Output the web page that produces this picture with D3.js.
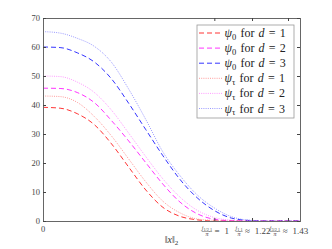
<!DOCTYPE html>
<html>
<head>
<meta charset="UTF-8">
<title>psi curves</title>
<script src="https://cdnjs.cloudflare.com/ajax/libs/d3/7.8.5/d3.min.js"></script>
<style>
  html, body { margin: 0; padding: 0; background: #fff; }
  svg { display: block; font-family: "Liberation Serif", "DejaVu Serif", serif; }
</style>
</head>
<body>
<div id="chart"></div>
<script>
// values
const xs        = [0, 0.1, 0.2, 0.3, 0.4, 0.5, 0.6, 0.7, 0.8, 0.9, 1.0, 1.1, 1.2, 1.3, 1.4, 1.5];
const psi0_d1   = [39.2, 38.9, 37.0, 33.2, 26.6, 18.6, 10.7, 4.7, 1.6, 0.4, 0.0, 0, 0, 0, 0, 0];
const psi0_d2   = [45.8, 45.7, 44.3, 40.8, 34.6, 27.6, 20.1, 12.7, 6.5, 2.5, 0.6, 0.1, 0, 0, 0, 0];
const psi0_d3   = [60.0, 59.8, 58.0, 54.8, 49.0, 40.6, 31.5, 22.5, 14.3, 8.0, 3.6, 1.0, 0.2, 0.0, 0, 0];
const psiT_d1   = [43.1, 42.9, 40.9, 36.0, 29.3, 21.4, 13.5, 6.8, 2.8, 0.7, 0.2, 0.0, 0, 0, 0, 0];
const psiT_d2   = [50.0, 49.8, 47.9, 44.3, 38.2, 30.3, 22.2, 14.5, 8.2, 3.7, 1.2, 0.3, 0.05, 0, 0, 0];
const psiT_d3   = [65.3, 64.8, 63.0, 60.2, 54.7, 45.5, 35.0, 23.8, 15.6, 9.0, 4.5, 1.5, 0.3, 0.05, 0, 0];

const yTicks    = [0, 10, 20, 30, 40, 50, 60, 70];
const xTickVals = [1, 1.22, 1.43];
const xTickSub  = ["1/2,1", "1,1", "3/2,1"];
const xTickRel  = ["= 1", "\u2248 1.22", "\u2248 1.43"];

const series = [
  { vals: psi0_d1, sub: "0", d: 1, color: "#ff0000", dash: "5,3" },
  { vals: psi0_d2, sub: "0", d: 2, color: "#ff00ff", dash: "5,3" },
  { vals: psi0_d3, sub: "0", d: 3, color: "#0000ff", dash: "5,3" },
  { vals: psiT_d1, sub: "\u03c4", d: 1, color: "#ff8080", dash: "1,1.2" },
  { vals: psiT_d2, sub: "\u03c4", d: 2, color: "#ff80ff", dash: "1,1.2" },
  { vals: psiT_d3, sub: "\u03c4", d: 3, color: "#8080ff", dash: "1,1.2" }
];

const W = 332, H = 249;
const L = 43, R = 300, T = 18, B = 221;

const svg = d3.select('#chart').append('svg')
  .attr('width', W).attr('height', H);

const x = d3.scaleLinear().domain([0, 1.5]).range([L, R]);
const y = d3.scaleLinear().domain([0, 70]).range([B, T]);

// curves
const line = d3.line()
  .x((d, i) => x(xs[i]))
  .y(d => y(d))
  .curve(d3.curveMonotoneX);

svg.append('g').selectAll('path')
  .data(series)
  .join('path')
  .attr('d', s => line(s.vals))
  .attr('fill', 'none')
  .attr('stroke', s => s.color)
  .attr('stroke-width', 0.8)
  .attr('stroke-dasharray', s => s.dash);

// box + inward ticks
const axisCol = '#666';
svg.append('rect')
  .attr('x', L + 0.5).attr('y', T + 0.5).attr('width', R - L).attr('height', B - T)
  .attr('fill', 'none').attr('stroke', axisCol).attr('stroke-width', 1);

function styleAxis(g) {
  g.select('.domain').remove();
  g.selectAll('.tick line').attr('stroke', '#444');
  g.selectAll('.tick text').attr('fill', '#444').attr('font-size', 8.5)
    .attr('font-family', '"Liberation Serif", serif');
}
svg.append('g').attr('transform', `translate(${L},0)`)
  .call(d3.axisLeft(y).tickValues(yTicks).tickSize(-3).tickSizeOuter(0).tickPadding(3))
  .call(styleAxis);
svg.append('g').attr('transform', `translate(${R},0)`)
  .call(d3.axisRight(y).tickValues(yTicks).tickSize(-3).tickSizeOuter(0).tickFormat(''))
  .call(styleAxis);
svg.append('g').attr('transform', `translate(0,${B})`)
  .call(d3.axisBottom(x).tickValues(xTickVals).tickSize(-3).tickSizeOuter(0).tickFormat(''))
  .call(styleAxis);
svg.append('g').attr('transform', `translate(0,${T})`)
  .call(d3.axisTop(x).tickValues(xTickVals).tickSize(-3).tickSizeOuter(0).tickFormat(''))
  .call(styleAxis);

// x tick labels
svg.append('text')
  .attr('x', x(0)).attr('y', B + 11)
  .attr('text-anchor', 'middle').attr('font-size', 8.5).attr('fill', '#444')
  .text('0');

xTickVals.forEach((v, i) => {
  const g = svg.append('g').attr('fill', '#444');
  const num = g.append('text').attr('x', 0).attr('y', B + 8.5).attr('font-size', 6);
  num.append('tspan').attr('font-style', 'italic').text('j');
  num.append('tspan').attr('font-size', 4.3).attr('dy', 1.2).text(xTickSub[i]);
  const nw = num.node().getComputedTextLength();
  g.append('line').attr('x1', 0).attr('x2', nw).attr('y1', B + 10.5).attr('y2', B + 10.5)
    .attr('stroke', '#444').attr('stroke-width', 0.45);
  g.append('text').attr('x', nw / 2).attr('y', B + 15).attr('font-size', 6)
    .attr('font-style', 'italic').attr('text-anchor', 'middle').text('\u03c0');
  const rel = g.append('text').attr('x', nw + 2.5).attr('y', B + 13)
    .attr('font-size', 9).attr('word-spacing', 2.5).text(xTickRel[i]);
  const tw = nw + 2.5 + rel.node().getComputedTextLength();
  g.attr('transform', `translate(${x(v) - tw / 2 + 1},0)`);
});

// x label ||x||_2
const xl = svg.append('text')
  .attr('x', (L + R) / 2).attr('y', B + 22)
  .attr('text-anchor', 'middle').attr('font-size', 10).attr('fill', '#333');
xl.append('tspan').text('\u2016');
xl.append('tspan').attr('font-style', 'italic').text('x');
xl.append('tspan').text('\u2016');
xl.append('tspan').attr('font-size', 7).attr('dy', 2).text('2');

// legend
const lg = svg.append('g');
lg.append('rect')
  .attr('x', 197).attr('y', 25).attr('width', 97).attr('height', 93)
  .attr('fill', '#fff').attr('stroke', '#999').attr('stroke-width', 0.8);

series.forEach((s, i) => {
  const cy = 33 + i * 15.1;
  lg.append('line')
    .attr('x1', 199).attr('x2', 223).attr('y1', cy).attr('y2', cy)
    .attr('stroke', s.color).attr('stroke-width', 0.8).attr('stroke-dasharray', s.dash);
  const t = lg.append('text').attr('x', 224.5).attr('y', cy + 4)
    .attr('font-size', 12).attr('fill', '#222').attr('word-spacing', 1.2);
  t.append('tspan').attr('font-style', 'italic').text('\u03c8');
  t.append('tspan').attr('font-size', 8.5).attr('dy', 2.5).text(s.sub);
  t.append('tspan').attr('dy', -2.5).text(' for ');
  t.append('tspan').attr('font-style', 'italic').text('d');
  t.append('tspan').text(' = ' + s.d);
});
</script>
</body>
</html>
